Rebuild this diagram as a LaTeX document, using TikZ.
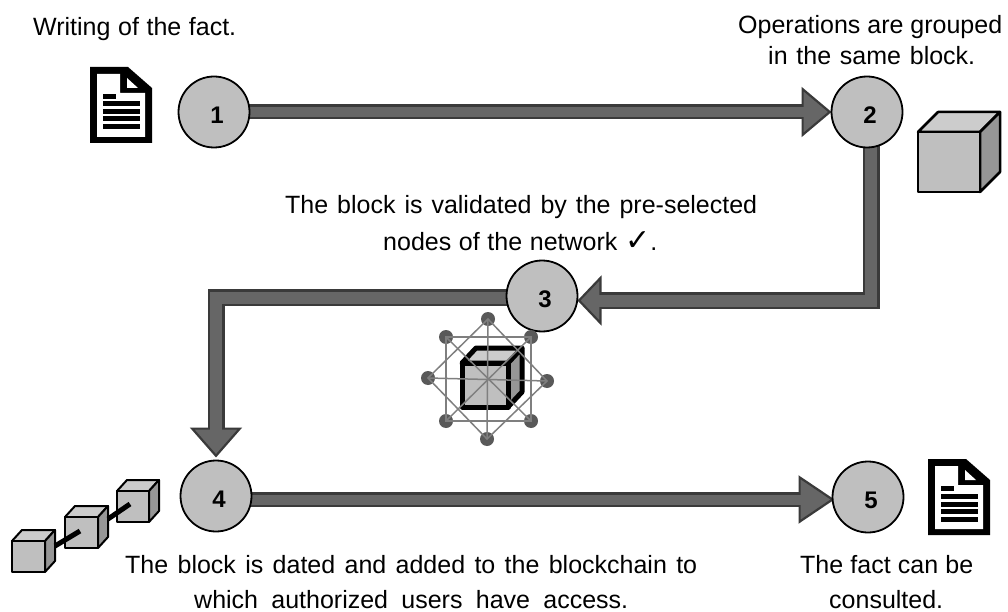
\documentclass[tikz,border=0pt]{standalone}
\usepackage{fontspec}
\setmainfont{Liberation Sans}
\newfontfamily\symfont{DejaVu Sans}
\usetikzlibrary{arrows.meta,backgrounds,calc}
\definecolor{discfill}{HTML}{BFBFBF}
\definecolor{bodyfill}{HTML}{666666}
\definecolor{bodyline}{HTML}{3A3A3A}
\definecolor{cubetop}{HTML}{CCCCCC}
\definecolor{cubeside}{HTML}{969696}
\definecolor{dotfill}{HTML}{595959}
\definecolor{netline}{HTML}{7F7F7F}
\tikzset{
  x=1pt,y=-1pt,
  disc/.style={circle,draw=black,line width=1.8pt,fill=discfill,minimum size=71pt,inner sep=0pt,outer sep=0pt,font=\fontsize{24}{24}\selectfont\bfseries},
  captext/.style={inner sep=0pt,anchor=base west,font=\fontsize{25}{28}\selectfont},
  flow/.style n args={4}{draw=bodyline,line width=#1pt,
    -{Triangle[length=#2pt,width=#3pt,line width=2.2pt,fill=bodyfill,color=bodyline]},
    postaction={draw=bodyfill,line width=#1pt-5pt,-,shorten >=#4pt}},
  netdot/.style={circle,fill=dotfill,minimum size=14pt,inner sep=0pt},
  netlink/.style={draw=netline,line width=1.5pt},
  chainlink/.style={draw=black,line width=5pt},
}
\newcommand{\stepnum}[1]{\makebox[0pt]{\hspace{6pt}\raisebox{-11.5pt}[0pt][0pt]{#1}}}
\newcommand{\fitline}[2]{\makebox[#1pt][s]{#2}}
\newcommand{\mycube}[7]{% x y w h dx dy lw
  \begin{scope}[line width=#7pt,line join=round,draw=black]
    \filldraw[fill=cubetop] (#1,#2) -- ++(#5,-#6) -- ++(#3,0) -- ++(-#5,#6) -- cycle;
    \filldraw[fill=cubeside] (#1+#3,#2) -- ++(#5,-#6) -- ++(0,#4) -- ++(-#5,#6) -- cycle;
    \filldraw[fill=discfill] (#1,#2) rectangle ++(#3,#4);
  \end{scope}}
\newcommand{\mydoc}[2]{%
  \begin{scope}[shift={(#1,#2)}]
    \fill[black] (90,67) -- (128,67) -- (152,88) -- (152,143) -- (90,143) -- cycle;
    \fill[white] (97,74) -- (120,74) -- (120,93) -- (145,93) -- (145,137) -- (97,137) -- cycle;
    \fill[white] (127,78) -- (127,88) -- (138,88) -- cycle;
    \fill[black] (103,94) rectangle (116,99);
    \foreach \yy in {104,112,119,127} \fill[black] (103,\yy-2.5) rectangle (140,\yy+2.5);
  \end{scope}}
\begin{document}
\begin{tikzpicture}
\useasboundingbox (0,0) rectangle (1008,612);
% step discs
\node[disc] (c1) at (214,112) {\stepnum{1}};
\node[disc] (c2) at (867,112) {\stepnum{2}};
\node[disc] (c3) at (542,296) {\stepnum{3}};
\node[disc] (c4) at (216,496) {\stepnum{4}};
\node[disc] (c5) at (868,497) {\stepnum{5}};
% connectors
\begin{scope}[on background layer]
  \draw[flow={15}{30}{50}{20}] (c1.center) -- (c2.west);
  \draw[flow={17}{24}{50}{15}] ($(c2.center)+(4,0)$) |- ($(c3.east)+(0,4.5)$);
  \draw[flow={17}{30}{52}{20}] ($(c3.center)+(0,1.5)$) -| ($(c4.north)+(0,-3)$);
  \draw[flow={15}{36}{48}{25}] ($(c4.center)+(0,3.5)$) -- ($(c5.west)+(2,2.5)$);
\end{scope}
% captions
\node[captext] (t1) at (33,36) {\fitline{203}{Writing of the fact.}};
\node[captext] (t2a) at (738,34) {\fitline{264}{Operations are grouped}};
\node[captext] (t2b) at (768,65) {\fitline{207}{in the same block.}};
\node[captext] (t3a) at (285,214) {\fitline{472}{The block is validated by the pre-selected}};
\node[captext] (t3b) at (383,250) {\fitline{274}{nodes of the network {\symfont\fontsize{30}{30}\selectfont ✓}.}};
\node[captext] (t4a) at (125,573) {\fitline{572}{The block is dated and added to the blockchain to}};
\node[captext] (t4b) at (194,608) {\fitline{434}{which authorized users have access.}};
\node[captext] (t5a) at (800,573) {\fitline{173}{The fact can be}};
\node[captext] (t5b) at (829,608) {consulted.};
% documents
\mydoc{0}{0}
\mydoc{838}{392}
% big cube
\mycube{918}{132}{62}{60}{20}{20}{2.5}
% validated cube
\mycube{462}{363}{46}{44}{14}{15}{5}
% network
\node[netdot] (n1) at (488,319) {};
\node[netdot] (n2) at (531,337) {};
\node[netdot] (n3) at (547,381) {};
\node[netdot] (n4) at (531,421) {};
\node[netdot] (n5) at (487,439) {};
\node[netdot] (n6) at (446,421) {};
\node[netdot] (n7) at (428,378) {};
\node[netdot] (n8) at (446,337) {};
\draw[netlink] (n2.center) -- (n4.center) -- (n6.center) -- (n8.center) -- cycle;
\draw[netlink] (n1.center) -- (n3.center) -- (n5.center) -- (n7.center) -- cycle;
\draw[netlink] (n1.center) -- (n5.center);
\draw[netlink] (n7.center) -- (n3.center);
\draw[netlink] (n8.center) -- (n4.center);
\draw[netlink] (n2.center) -- (n6.center);
% chain
\mycube{12}{541}{33}{31}{10}{11}{2}
\mycube{65}{517}{33}{31}{10}{11}{2}
\mycube{117}{491}{32}{31}{10}{11}{2}
\coordinate (l1a) at (55,546);
\coordinate (l1b) at (80,531);
\coordinate (l2a) at (108,519);
\coordinate (l2b) at (130,504);
\draw[chainlink] (l1a) -- (l1b);
\draw[chainlink] (l2a) -- (l2b);
\end{tikzpicture}
\end{document}
